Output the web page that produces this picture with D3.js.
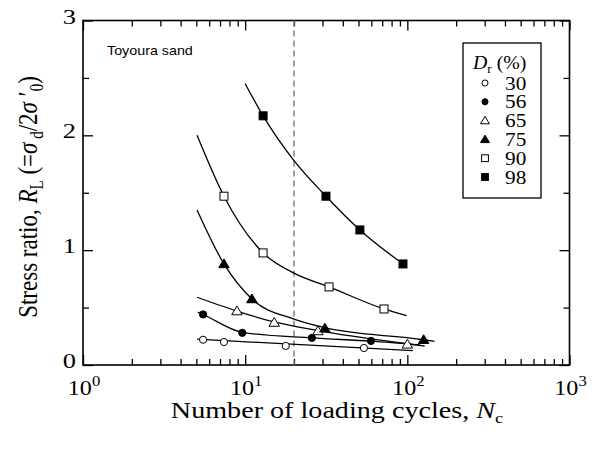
<!DOCTYPE html>
<html>
<head>
<meta charset="utf-8">
<script src="https://cdn.jsdelivr.net/npm/d3@7"></script>
<style>
  body { margin: 0; background: #fff; }
</style>
</head>
<body>
<svg id="chart" width="603" height="451"></svg>
<script>
(function () {

    // relative density groups (Dr, %)
    const densities = [30, 56, 65, 75, 90, 98];
    const symbols = ['circleOpen', 'circle', 'triangleOpen', 'triangle', 'squareOpen', 'square'];

    // test points [Nc, RL]
    const pts30 = [[5.5, 0.22], [7.4, 0.20], [17.8, 0.166], [54, 0.148]];
    const pts56 = [[5.5, 0.44], [9.6, 0.28], [25.8, 0.236], [59.7, 0.21]];
    const pts65 = [[8.9, 0.47], [15.1, 0.37], [28.1, 0.296], [100, 0.18]];
    const pts75 = [[7.4, 0.88], [11.0, 0.575], [31, 0.32], [126, 0.22]];
    const pts90 = [[7.4, 1.47], [12.9, 0.976], [32.9, 0.68], [71.8, 0.488]];
    const pts98 = [[12.9, 2.17], [31.5, 1.47], [51, 1.176], [94, 0.88]];

    // fitted curves
    const fit30 = [[5.05, 0.225], [108, 0.125]];
    const fit56 = [[5.1, 0.46], [5.5, 0.44], [9.6, 0.285], [25.8, 0.236], [59.7, 0.208], [120, 0.175]];
    const fit65 = [[5.05, 0.59], [8.9, 0.47], [15.1, 0.375], [28.1, 0.30], [100, 0.185], [128, 0.165]];
    const fit75 = [[5.05, 1.35], [7.4, 0.88], [11.0, 0.575], [20, 0.40], [31, 0.325], [126, 0.22], [147, 0.205]];
    const fit90 = [[5.05, 2.0], [7.4, 1.47], [12.9, 0.976], [20, 0.80], [32.9, 0.68], [71.8, 0.488], [99, 0.43]];
    const fit98 = [[10, 2.45], [12.9, 2.17], [20, 1.78], [31.5, 1.47], [51, 1.176], [94, 0.88]];

    const pointSets = [pts30, pts56, pts65, pts75, pts90, pts98];
    const fitSets = [fit30, fit56, fit65, fit75, fit90, fit98];

    const xDecades = [1, 10, 100, 1000];
    const yTicks = [0, 1, 2, 3];
    const yMinor = [0.5, 1.5, 2.5];
    const criticalN = 20;

    const serif = "'Liberation Serif', 'Times New Roman', Times, 'DejaVu Serif', serif";

    const svg = d3.select('#chart');

    const left = 83, right = 569.5, top = 20.5, bottom = 365;

    const x = d3.scaleLog().domain([1, 1000]).range([left, right]);
    const y = d3.scaleLinear().domain([0, 3]).range([bottom, top]);

    const xMinor = [];
    for (let d = 1; d < 1000; d *= 10) {
        for (let k = 2; k <= 9; k++) xMinor.push(d * k);
    }

    const major = 10, minor = 6;

    // the original figure is stretched sideways, so text is too
    function label(parent, tx, ty, size, sx, anchor) {
        return parent.append('g')
            .attr('transform', `translate(${tx},${ty}) scale(${sx},1)`)
            .append('text')
            .attr('text-anchor', anchor)
            .attr('font-family', serif)
            .attr('font-size', size);
    }

    // ticks (inward on all four sides)
    function ticks(axis, vals, size, tx, ty) {
        const g = svg.append('g')
            .attr('transform', `translate(${tx},${ty})`)
            .call(axis.tickValues(vals).tickSize(size).tickFormat(''));
        g.select('.domain').remove();
        g.selectAll('line').attr('stroke', '#000').attr('stroke-width', 1.3);
    }
    ticks(d3.axisBottom(x), xDecades, -major, 0, bottom);
    ticks(d3.axisBottom(x), xMinor, -minor, 0, bottom);
    ticks(d3.axisTop(x), xDecades, -major, 0, top);
    ticks(d3.axisTop(x), xMinor, -minor, 0, top);
    ticks(d3.axisLeft(y), yTicks, -major, left, 0);
    ticks(d3.axisLeft(y), yMinor, -minor, left, 0);
    ticks(d3.axisRight(y), yTicks, -major, right, 0);
    ticks(d3.axisRight(y), yMinor, -minor, right, 0);

    // frame
    svg.append('rect')
        .attr('x', left).attr('y', top)
        .attr('width', right - left).attr('height', bottom - top)
        .attr('fill', 'none').attr('stroke', '#000').attr('stroke-width', 1.6);

    // y tick labels
    yTicks.forEach(d => {
        label(svg, left - 7, y(d) + 3, 22, 1.2, 'end').text(d);
    });

    // x tick labels 10^n
    xDecades.forEach(d => {
        const t = label(svg, x(d) + 1, 395, 21, 1.15, 'middle');
        t.append('tspan').text('10');
        t.append('tspan').attr('dy', -9).attr('font-size', 14.5).text(Math.round(Math.log10(d)));
    });

    // axis titles
    const xt = label(svg, 337, 418, 23, 1, 'middle');
    xt.append('tspan').text('Number of loading cycles, ');
    xt.append('tspan').attr('font-style', 'italic').text('N');
    xt.append('tspan').attr('dy', 5).attr('font-size', 15).text('c');
    const xw = xt.node().getBBox().width;
    d3.select(xt.node().parentNode).attr('transform', `translate(337,418) scale(${333 / xw},1)`);

    const yt = svg.append('g')
        .attr('transform', 'translate(37,197) scale(1.2,1) rotate(-90)')
        .append('text')
        .attr('text-anchor', 'middle')
        .attr('font-family', serif)
        .attr('font-size', 23);
    yt.append('tspan').text('Stress ratio, ');
    yt.append('tspan').attr('font-style', 'italic').text('R');
    yt.append('tspan').attr('dy', 5).attr('font-size', 15).text('L');
    yt.append('tspan').attr('dy', -5).text(' (=');
    yt.append('tspan').attr('font-style', 'italic').text('σ');
    yt.append('tspan').attr('dy', 5).attr('font-size', 15).text(' d');
    yt.append('tspan').attr('dy', -5).text('/2');
    yt.append('tspan').attr('font-style', 'italic').text('σ');
    yt.append('tspan').text(' ′');
    yt.append('tspan').attr('dy', 5).attr('font-size', 15).text('0');
    yt.append('tspan').attr('dy', -5).text(')');

    svg.append('g')
        .attr('transform', 'translate(107,55) scale(1.1,1)')
        .append('text')
        .attr('font-size', 13)
        .attr('font-family', "'Liberation Sans', Arial, sans-serif")
        .text('Toyoura sand');

    // critical cycles line
    svg.append('line')
        .attr('x1', x(criticalN)).attr('x2', x(criticalN))
        .attr('y1', top).attr('y2', bottom)
        .attr('stroke', '#808080').attr('stroke-width', 1.5)
        .attr('stroke-dasharray', '6,4');

    // fitted curves
    const line = d3.line()
        .x(d => x(d[0]))
        .y(d => y(d[1]))
        .curve(d3.curveMonotoneX);

    svg.selectAll('.fit')
        .data(fitSets)
        .enter()
        .append('path')
        .attr('d', line)
        .attr('fill', 'none')
        .attr('stroke', '#000')
        .attr('stroke-width', 1.3);

    // markers
    function drawMarker(g, kind, cx, cy, k) {
        const filled = !kind.endsWith('Open');
        const fill = filled ? '#000' : '#fff';
        if (kind.startsWith('circle')) {
            g.append('circle').attr('cx', cx).attr('cy', cy).attr('r', 3.6 * k)
                .attr('fill', fill).attr('stroke', '#000').attr('stroke-width', 1);
        } else if (kind.startsWith('triangle')) {
            const s = 5 * k;
            g.append('path')
                .attr('d', `M${cx},${cy - s}L${cx + s * 1.05},${cy + s * 0.75}L${cx - s * 1.05},${cy + s * 0.75}Z`)
                .attr('fill', fill).attr('stroke', '#000').attr('stroke-width', 1);
        } else {
            const s = 4 * k;
            g.append('rect').attr('x', cx - s).attr('y', cy - s)
                .attr('width', 2 * s).attr('height', 2 * s)
                .attr('fill', fill).attr('stroke', '#000').attr('stroke-width', 1);
        }
    }

    const markG = svg.append('g');
    pointSets.forEach((set, i) => {
        set.forEach(p => drawMarker(markG, symbols[i], x(p[0]), y(p[1]), 1));
    });

    // legend
    const lg = svg.append('g');
    lg.append('rect')
        .attr('x', 463).attr('y', 43)
        .attr('width', 78).attr('height', 155)
        .attr('fill', '#fff').attr('stroke', '#000').attr('stroke-width', 1.3);
    const lt = label(lg, 473, 69, 18, 1.1, 'start');
    lt.append('tspan').attr('font-style', 'italic').text('D');
    lt.append('tspan').attr('dy', 4).attr('font-size', 12).text('r');
    lt.append('tspan').attr('dy', -4).text(' (%)');

    densities.forEach((d, i) => {
        const cy = 83 + i * 18.8;
        drawMarker(lg, symbols[i], 485, cy, 0.85);
        label(lg, 505, cy + 6.5, 18.5, 1.15, 'start').text(d);
    });

})();
</script>
</body>
</html>
